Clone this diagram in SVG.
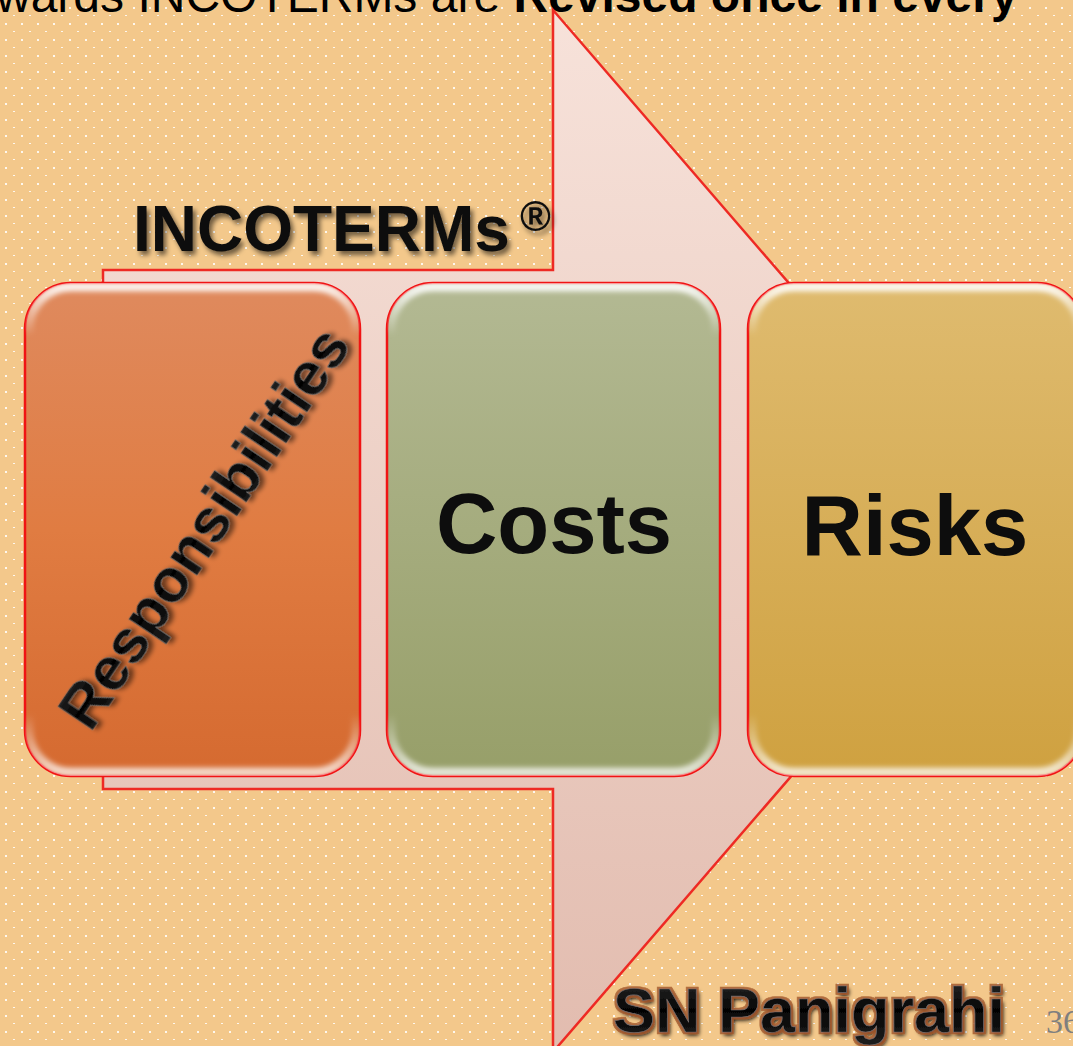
<svg xmlns="http://www.w3.org/2000/svg" width="1073" height="1046" viewBox="0 0 1073 1046">
  <defs>
    <pattern id="dots" width="16" height="16" patternUnits="userSpaceOnUse">
      <rect width="16" height="16" fill="#F3C88B"/>
      <rect x="5" y="7" width="2" height="2" fill="#FFFFFF" opacity="0.85"/>
      <rect x="13" y="15" width="2" height="2" fill="#FFFFFF" opacity="0.85"/>
    </pattern>
    <linearGradient id="arrowFill" x1="0" y1="0" x2="0" y2="1">
      <stop offset="0" stop-color="#F7E2DA"/>
      <stop offset="1" stop-color="#E2BCAF"/>
    </linearGradient>
    <linearGradient id="gResp" x1="0" y1="0" x2="0" y2="1">
      <stop offset="0" stop-color="#DF8A5E"/>
      <stop offset="0.5" stop-color="#E07C42"/>
      <stop offset="1" stop-color="#D56A30"/>
    </linearGradient>
    <linearGradient id="gCost" x1="0" y1="0" x2="0" y2="1">
      <stop offset="0" stop-color="#B3B993"/>
      <stop offset="1" stop-color="#979F69"/>
    </linearGradient>
    <linearGradient id="gRisk" x1="0" y1="0" x2="0" y2="1">
      <stop offset="0" stop-color="#DFBB6F"/>
      <stop offset="1" stop-color="#CFA140"/>
    </linearGradient>
    <linearGradient id="gloss" x1="0" y1="0" x2="0" y2="1">
      <stop offset="0" stop-color="#FFFFFF" stop-opacity="0.9"/>
      <stop offset="0.1" stop-color="#FFFFFF" stop-opacity="0"/>
      <stop offset="0.88" stop-color="#FFFFFF" stop-opacity="0"/>
      <stop offset="1" stop-color="#FFFFFF" stop-opacity="0.75"/>
    </linearGradient>
    <linearGradient id="glassText" x1="0" y1="0" x2="0" y2="1">
      <stop offset="0" stop-color="#2C2C2C"/>
      <stop offset="0.5" stop-color="#050505"/>
      <stop offset="1" stop-color="#1E1E1E"/>
    </linearGradient>
    <filter id="soft" x="-10%" y="-10%" width="120%" height="120%">
      <feGaussianBlur stdDeviation="2.5"/>
    </filter>
    <filter id="shadow" x="-10%" y="-20%" width="130%" height="150%">
      <feGaussianBlur in="SourceAlpha" stdDeviation="2.5"/>
      <feOffset dx="3" dy="4" result="b"/>
      <feComponentTransfer><feFuncA type="linear" slope="0.55"/></feComponentTransfer>
      <feMerge><feMergeNode/><feMergeNode in="SourceGraphic"/></feMerge>
    </filter>
    <filter id="glowBrown" x="-10%" y="-20%" width="130%" height="150%">
      <feMorphology in="SourceAlpha" operator="dilate" radius="1.5" result="d"/>
      <feFlood flood-color="#A0552A" flood-opacity="0.8"/>
      <feComposite in2="d" operator="in" result="g"/>
      <feGaussianBlur in="SourceAlpha" stdDeviation="2"/>
      <feOffset dx="2" dy="3" result="s"/>
      <feMerge><feMergeNode in="s"/><feMergeNode in="g"/><feMergeNode in="SourceGraphic"/></feMerge>
    </filter>
    <clipPath id="clipResp"><rect x="25" y="283" width="335" height="493" rx="46"/></clipPath>
    <clipPath id="clipCost"><rect x="387" y="283" width="333" height="493" rx="46"/></clipPath>
    <clipPath id="clipRisk"><rect x="748" y="283" width="335" height="493" rx="46"/></clipPath>
  </defs>

  <style>
    .box { stroke: #F01414; stroke-width: 2.5; }
    .shine { fill: none; stroke: url(#gloss); stroke-width: 9; filter: url(#soft); }
    .label { font-family: "Liberation Sans", Arial, sans-serif; font-weight: bold; fill: #0D0D0D; text-anchor: middle; }
    .glass { font-family: "Liberation Sans", Arial, sans-serif; font-weight: bold; fill: url(#glassText); stroke: #6E6E6E; stroke-width: 0.7; }
  </style>

  <!-- dotted background -->
  <rect width="1073" height="1046" fill="url(#dots)"/>

  <!-- title line, running off the top edge -->
  <text x="-4" y="12" font-family="Liberation Sans, Arial, sans-serif" font-size="48" fill="#000">wards INCOTERMs are <tspan font-weight="bold">Revised once in every</tspan></text>

  <!-- block arrow behind the three cards -->
  <g id="connectors">
    <path id="flow-arrow" d="M103,270 L553,270 L553,10 L1003,531 L553,1052 L553,789 L103,789 Z" fill="url(#arrowFill)" stroke="#EE2A24" stroke-width="2.5"/>
  </g>

  <!-- heading -->
  <g id="heading" filter="url(#shadow)">
    <text x="133" y="251" font-family="Liberation Sans, Arial, sans-serif" font-weight="bold" font-size="64" fill="#0D0D0D">INCOTERMs</text>
    <text x="520" y="231" font-family="Liberation Sans, Arial, sans-serif" font-weight="bold" font-size="42" fill="#0D0D0D">®</text>
  </g>

  <!-- card: Responsibilities -->
  <g id="node-responsibilities">
    <rect class="box" x="25" y="283" width="335" height="493" rx="46" fill="url(#gResp)"/>
    <g clip-path="url(#clipResp)"><rect class="shine" x="29" y="287" width="327" height="485" rx="42"/></g>
    <text class="glass" x="0" y="0" font-size="61" text-anchor="middle" dy="0.36em" transform="translate(203,527) rotate(-56)" filter="url(#shadow)">Responsibilities</text>
  </g>

  <!-- card: Costs -->
  <g id="node-costs">
    <rect class="box" x="387" y="283" width="333" height="493" rx="46" fill="url(#gCost)"/>
    <g clip-path="url(#clipCost)"><rect class="shine" x="391" y="287" width="325" height="485" rx="42"/></g>
    <text class="label" x="554" y="553" font-size="85">Costs</text>
  </g>

  <!-- card: Risks -->
  <g id="node-risks">
    <rect class="box" x="748" y="283" width="335" height="493" rx="46" fill="url(#gRisk)"/>
    <g clip-path="url(#clipRisk)"><rect class="shine" x="752" y="287" width="327" height="485" rx="42"/></g>
    <text class="label" x="915" y="555" font-size="85">Risks</text>
  </g>

  <!-- footer -->
  <g id="footer">
    <text class="glass" x="613" y="1032" font-size="63" filter="url(#glowBrown)">SN Panigrahi</text>
    <text x="1046" y="1033" font-family="Liberation Serif, 'Times New Roman', serif" font-size="34" fill="#7F7F7F">36</text>
  </g>
</svg>
